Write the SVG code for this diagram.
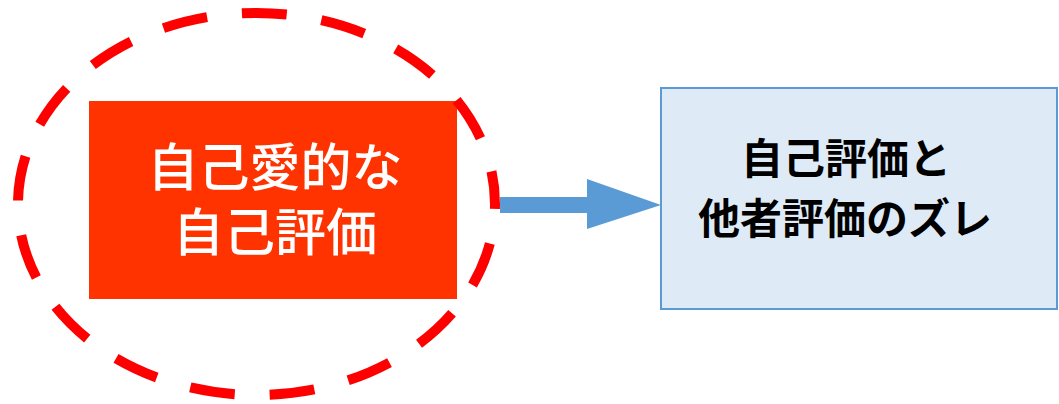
<svg xmlns="http://www.w3.org/2000/svg" width="1059" height="404" viewBox="0 0 1059 404">
<style>
.jp{font-family:"Noto Sans CJK JP","Noto Sans CJK SC",sans-serif;text-anchor:middle}
.w{fill:#ffffff;font-size:51px;font-weight:500}
.b{fill:#000000;font-size:42px;font-weight:700}
</style>
<rect width="1059" height="404" fill="#ffffff"/>
<g id="source">
<rect x="89" y="101" width="368" height="198" fill="#FF3300"/>
<text class="jp w" x="275" y="186">自己愛的な</text>
<text class="jp w" x="275" y="251">自己評価</text>
</g>
<g id="highlight">
<ellipse cx="256.5" cy="204" rx="238.5" ry="191" fill="none" stroke="#FF0000" stroke-width="10" stroke-dasharray="45 35" stroke-dashoffset="40"/>
</g>
<g id="connectors">
<path d="M500 197 H587 V179 L661 205 L587 229 V213 H500 Z" fill="#5B9BD5"/>
</g>
<g id="target">
<rect x="661" y="88" width="396" height="221" fill="#DEEBF7" stroke="#5B9BD5" stroke-width="2"/>
<text class="jp b" x="846" y="174">自己評価と</text>
<text class="jp b" x="845" y="234">他者評価のズレ</text>
</g>
</svg>
